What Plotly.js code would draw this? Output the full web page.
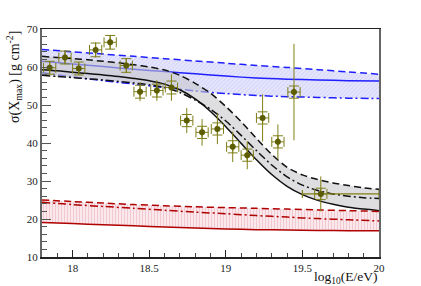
<!DOCTYPE html>
<html><head><meta charset="utf-8">
<script src="https://cdn.plot.ly/plotly-3.0.1.min.js"></script>
<style>html,body{margin:0;padding:0;background:#fff}#c{width:421px;height:286px}</style>
</head><body><div id="c"></div>
<script>
// ---- data ----
var dataX    = [17.85,17.95,18.04,18.15,18.245,18.35,18.44,18.55,18.645,18.745,18.845,18.945,19.045,19.14,19.24,19.34,19.445,19.62];
var dataY    = [59.8,62.5,59.6,64.5,66.5,60.4,53.5,53.8,54.6,45.9,42.8,43.7,39.0,36.8,46.6,40.3,53.4,26.6];
var statErr  = [1.5,1.8,1.5,2.0,1.8,2.0,2.5,2.7,3.5,3.3,3.5,4.0,4.0,3.7,6.2,4.6,12.7,4.6];
var sysErr   = [1.7,1.7,1.7,1.8,1.8,1.8,1.7,1.7,1.7,1.6,1.6,1.6,1.6,1.6,1.6,1.6,1.6,1.5];
var binLow   = [0,0,0,0,0,0,0,0,0,0,0,0,0,0,0,0,0,0.12];
var binHigh  = [0,0,0,0,0,0,0,0,0,0,0,0,0,0,0,0,0,0.38];

var mixX       = [17.8,17.9,18.0,18.1,18.2,18.3,18.4,18.5,18.6,18.7,18.8,18.9,19.0,19.1,19.2,19.3,19.4,19.5,19.6,19.7,19.8,19.9,20.0];
var mixDashed  = [62.8,62.5,62.2,61.9,61.5,61.1,60.6,60.0,59.2,57.8,55.7,53.1,49.6,45.6,41.2,37.0,33.6,31.6,30.4,29.5,28.8,28.2,27.8];
var mixSolid   = [59.3,59.0,58.6,58.3,57.9,57.5,57.0,56.4,55.5,54.0,51.6,48.3,44.3,39.9,35.6,31.7,28.6,26.4,24.9,23.9,23.1,22.6,22.2];
var mixDashDot = [57.8,57.5,57.2,56.9,56.6,56.2,55.8,55.3,54.6,53.3,51.3,48.9,45.8,42.0,38.0,34.2,31.1,28.9,27.5,26.6,26.0,25.6,25.4];

var modelX      = [17.8,18.0,18.2,18.4,18.6,18.8,19.0,19.2,19.4,19.6,19.8,20.0];
var pDashed     = [64.6,64.0,63.4,62.8,62.2,61.6,61.0,60.4,59.9,59.3,58.7,58.1];
var pSolid      = [61.5,60.8,60.1,59.4,58.8,58.2,57.6,57.1,56.8,56.6,56.4,56.3];
var pDashDot    = [58.5,57.4,56.4,55.5,54.6,53.7,53.0,52.5,52.2,52.0,51.8,51.7];
var feDashed    = [25.0,24.6,24.2,23.8,23.5,23.2,23.0,22.8,22.6,22.4,22.2,22.0];
var feDashDot   = [24.4,23.8,23.3,22.8,22.3,21.8,21.4,20.9,20.5,20.1,19.8,19.5];
var feSolid     = [19.1,18.8,18.5,18.2,17.9,17.6,17.4,17.2,17.1,17.0,16.9,16.9];

var xTicks = [18,18.5,19,19.5,20];
var xTickText = ['18','18.5','19','19.5','20'];
var yTicks = [10,20,30,40,50,60,70];

// ---- drawing ----
var mixLow = mixSolid.map(function(v,i){return Math.min(v,mixDashDot[i]);});
var DASH = '7px,4px';
var DASHDOT = '8px,3px,2px,3px';
var BLUE='#1f1fff', BLK='#111111', RED='#b00000';
function line(x,y,c,d){return {x:x,y:y,mode:'lines',line:{color:c,width:1.5,dash:d,shape:'spline',smoothing:0.8},hoverinfo:'skip',showlegend:false};}
function edge(x,y){return {x:x,y:y,mode:'lines',line:{width:0,shape:'spline',smoothing:0.8},hoverinfo:'skip',showlegend:false};}

var traces = [];
// blue band
traces.push(edge(modelX,pDashed));
var bf = edge(modelX,pDashDot); bf.fill='tonexty'; bf.fillcolor='rgba(200,200,252,0.7)';
bf.fillpattern={shape:'/',fgcolor:'rgba(175,175,240,0.45)',bgcolor:'rgba(218,218,252,0.75)',size:3,solidity:0.25};
traces.push(bf);
traces.push(line(modelX,pDashed,BLUE,DASH));
traces.push(line(modelX,pSolid,BLUE,'solid'));
traces.push(line(modelX,pDashDot,BLUE,DASHDOT));
// grey band
traces.push(edge(mixX,mixDashed));
var gf = edge(mixX,mixLow); gf.fill='tonexty'; gf.fillcolor='rgba(200,200,204,0.6)';
traces.push(gf);
traces.push(line(mixX,mixDashed,BLK,DASH));
traces.push(line(mixX,mixSolid,BLK,'solid'));
traces.push(line(mixX,mixDashDot,BLK,DASHDOT));
// red band
traces.push(edge(modelX,feDashed));
var rf = edge(modelX,feSolid); rf.fill='tonexty';
rf.fillpattern={shape:'|',fgcolor:'rgba(230,175,185,0.6)',bgcolor:'rgba(250,232,236,1)',size:3,solidity:0.3};
traces.push(rf);
traces.push(line(modelX,feDashed,RED,DASH));
traces.push(line(modelX,feDashDot,RED,DASHDOT));
traces.push(line(modelX,feSolid,RED,'solid'));
// data: systematic brackets
traces.push({x:dataX,y:dataY,mode:'markers',marker:{size:1,color:'rgba(0,0,0,0)'},
  error_y:{type:'data',array:sysErr,color:'#7d7d18',thickness:1,width:5},
  error_x:{type:'data',array:dataX.map(function(){return 0.04;}),color:'#7d7d18',thickness:1,width:5},
  hoverinfo:'skip',showlegend:false});
// data: statistical
traces.push({x:dataX,y:dataY,mode:'markers',marker:{size:6,color:'#5c5c00'},
  error_y:{type:'data',array:statErr,color:'#808015',thickness:1,width:0},
  error_x:{type:'data',symmetric:false,array:binHigh,arrayminus:binLow,color:'#808015',thickness:1.2,width:4},
  showlegend:false});

var font = 'Liberation Serif, Times New Roman, serif';
var layout = {
  width:421,height:286,
  margin:{l:42,r:42,t:29,b:29},
  paper_bgcolor:'#fff',plot_bgcolor:'#fff',
  showlegend:false,
  font:{family:font,size:11,color:'#222'},
  xaxis:{range:[17.8,20],tickvals:xTicks,ticktext:xTickText,ticks:'inside',ticklen:7,tickcolor:'#222',
    showgrid:false,zeroline:false,showline:true,linecolor:'#222',linewidth:1.5,mirror:true,
    minor:{dtick:0.1,tick0:18,ticks:'inside',ticklen:4,tickcolor:'#444',showgrid:false},
    tickfont:{family:font,size:11,color:'#222'}},
  yaxis:{range:[10,70],tickvals:yTicks,ticks:'inside',ticklen:9,tickcolor:'#555',
    showgrid:false,zeroline:false,showline:true,linecolor:'#666',linewidth:2,mirror:true,
    minor:{dtick:2,tick0:10,ticks:'inside',ticklen:5,tickcolor:'#555',showgrid:false},
    tickfont:{family:font,size:11,color:'#222'}},
  annotations:[
    {text:'σ(X<sub>max</sub>) [g cm<sup>-2</sup>]',xref:'paper',yref:'paper',x:-0.083,y:1.0,
     xanchor:'center',yanchor:'top',textangle:-90,showarrow:false,font:{family:font,size:14,color:'#111'}},
    {text:'log<sub>10</sub>(E/eV)',xref:'paper',yref:'paper',x:1.0,y:-0.09,
     xanchor:'right',yanchor:'middle',showarrow:false,font:{family:font,size:13.5,color:'#111'}}
  ]
};
Plotly.newPlot('c',traces,layout,{staticPlot:true,displayModeBar:false});
</script></body></html>
